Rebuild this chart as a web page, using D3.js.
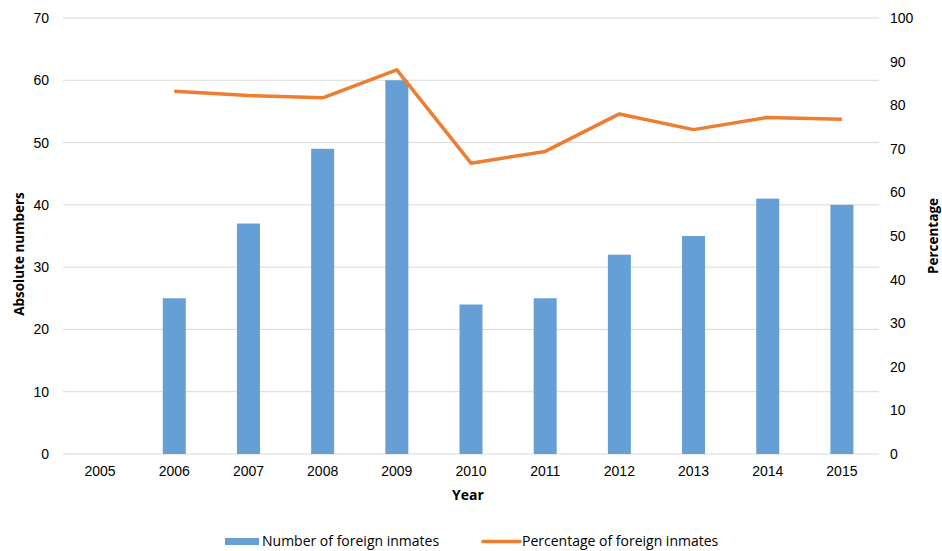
<!doctype html>
<html>
<head>
<meta charset="utf-8">
<script src="https://d3js.org/d3.v7.min.js"></script>
<style>
body { margin: 0; background: #fff; }
</style>
</head>
<body>
<svg width="942" height="551" class="chart"></svg>
<script>
// data
var years = ["2005","2006","2007","2008","2009","2010","2011","2012","2013","2014","2015"];
var inmates = [null, 25, 37, 49, 60, 24, 25, 32, 35, 41, 40];
var percent = [null, 83.2, 82.2, 81.7, 88.1, 66.7, 69.4, 78.0, 74.4, 77.2, 76.8];
var leftTicks = [0, 10, 20, 30, 40, 50, 60, 70];
var rightTicks = [0, 10, 20, 30, 40, 50, 60, 70, 80, 90, 100];

var svg = d3.select(".chart");
var plotL = 63, plotR = 879, plotT = 18, plotB = 454;

var x = d3.scaleBand().domain(years).range([plotL, plotR]).paddingInner(0.69).paddingOuter(0.345);
var yL = d3.scaleLinear().domain([0, 70]).range([plotB, plotT]);
var yR = d3.scaleLinear().domain([0, 100]).range([plotB, plotT]);

// gridlines
svg.append("g").selectAll("line")
  .data(leftTicks)
  .join("line")
  .attr("x1", plotL).attr("x2", plotR)
  .attr("y1", d => yL(d)).attr("y2", d => yL(d))
  .style("stroke", "#d9d9d9").style("stroke-width", 1);

// left axis
var gl = svg.append("g")
  .attr("transform", "translate(" + plotL + ",0)")
  .call(d3.axisLeft(yL).tickValues(leftTicks).tickSize(0).tickPadding(14));
gl.select(".domain").remove();

// right axis
var gr = svg.append("g")
  .attr("transform", "translate(" + plotR + ",0)")
  .call(d3.axisRight(yR).tickValues(rightTicks).tickSize(0).tickPadding(11));
gr.select(".domain").remove();

// x axis
var gx = svg.append("g")
  .attr("transform", "translate(0," + plotB + ")")
  .call(d3.axisBottom(x).tickSize(0).tickPadding(12));
gx.select(".domain").remove();

svg.selectAll(".tick text")
  .style("font-family", "Liberation Sans, Arial, sans-serif")
  .style("font-size", "14px")
  .style("fill", "#000");

// bars
svg.append("g").selectAll("rect")
  .data(years.map((d, i) => [d, inmates[i]]).filter(d => d[1] != null))
  .join("rect")
  .attr("x", d => x(d[0]))
  .attr("width", x.bandwidth())
  .attr("y", d => yL(d[1]))
  .attr("height", d => plotB - yL(d[1]))
  .style("fill", "#659fd6");

// line
var line = d3.line()
  .defined(d => d[1] != null)
  .x(d => x(d[0]) + x.bandwidth() / 2)
  .y(d => yR(d[1]));

svg.append("path")
  .datum(years.map((d, i) => [d, percent[i]]))
  .attr("d", line)
  .style("fill", "none")
  .style("stroke", "#ed7d31")
  .style("stroke-width", 3.5)
  .style("stroke-linejoin", "round");

// axis titles
svg.append("text")
  .attr("transform", "translate(24," + 254 + ")rotate(-90)")
  .attr("text-anchor", "middle")
  .style("font-family", "Open Sans, sans-serif")
  .style("font-weight", "bold")
  .style("font-size", "13.5px")
  .text("Absolute numbers");

svg.append("text")
  .attr("transform", "translate(938," + 236 + ")rotate(-90)")
  .attr("text-anchor", "middle")
  .style("font-family", "Open Sans, sans-serif")
  .style("font-weight", "bold")
  .style("font-size", "13.5px")
  .text("Percentage");

svg.append("text")
  .attr("x", 468).attr("y", 500)
  .attr("text-anchor", "middle")
  .style("font-family", "Open Sans, sans-serif")
  .style("font-weight", "bold")
  .style("font-size", "14px")
  .text("Year");

// legend
var lg = svg.append("g").style("font-family", "Open Sans, sans-serif").style("font-size", "14px");
lg.append("rect").attr("x", 225).attr("y", 538).attr("width", 34).attr("height", 7).style("fill", "#659fd6");
lg.append("text").attr("x", 262).attr("y", 546).text("Number of foreign inmates");
lg.append("line").attr("x1", 483).attr("x2", 520).attr("y1", 541.5).attr("y2", 541.5)
  .style("stroke", "#ed7d31").style("stroke-width", 3.5).style("stroke-linecap", "round");
lg.append("text").attr("x", 522).attr("y", 546).text("Percentage of foreign inmates");
</script>
</body>
</html>
